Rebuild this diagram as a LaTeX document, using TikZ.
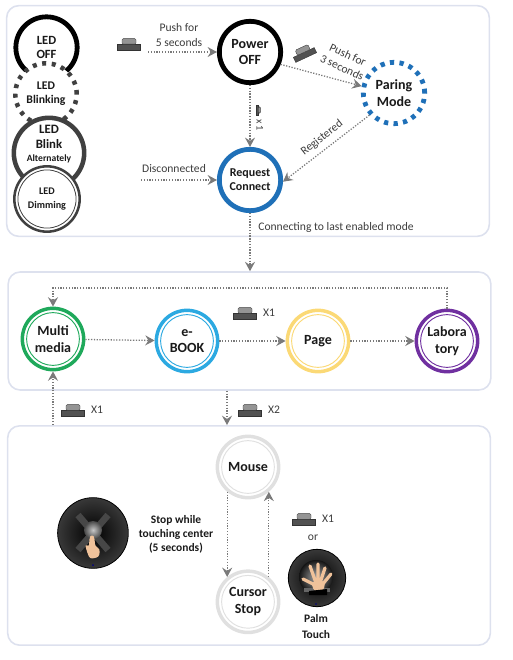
\documentclass[tikz,border=0pt]{standalone}
\usepackage{fontspec}
\setmainfont{Carlito}
\usetikzlibrary{arrows.meta,positioning}
\definecolor{ink}{HTML}{1A1A1A}
\definecolor{frame}{HTML}{DDE1EE}
\definecolor{flow}{HTML}{7A7A7A}
\definecolor{ledblue}{HTML}{1F70B8}
\definecolor{ledgreen}{HTML}{1FA95B}
\definecolor{ledcyan}{HTML}{2CA9E1}
\definecolor{ledyellow}{HTML}{FBD976}
\definecolor{ledpurple}{HTML}{7030A0}
\definecolor{ledgrey}{HTML}{E0E0E0}
\definecolor{skin}{HTML}{F0C29A}
\tikzset{
  panel/.style={draw=frame,line width=1.2pt,rounded corners=9pt,minimum width=362pt,inner sep=0pt},
  led/.style={circle,inner sep=0pt,minimum size=46pt,fill=white,align=center,font=\fontsize{10.5}{12.5}\selectfont\bfseries,text=ink},
  ringled/.style={led,draw=#1,line width=2.6pt,path picture={\draw[#1,line width=.7pt] (path picture bounding box.center) circle (19.8pt);}},
  lbl/.style={font=\fontsize{8.7}{10.6}\selectfont,text=ink!85,align=center,inner sep=0pt},
  note/.style={font=\fontsize{8.6}{10.6}\selectfont\bfseries,text=ink,align=center,inner sep=0pt},
  flowarr/.style={dash pattern=on .95pt off 1.15pt,line width=.95pt,color=flow,-{Stealth[length=7pt,width=7.5pt,inset=2.4pt]}},
  touchpad/.style={circle,inner sep=0pt,minimum size=#1,draw=black,line width=.6pt,inner color=black,outer color=black!78},
  btn/.pic={
    \fill[black!68,draw=black!80,line width=.3pt] (-11.5,-2.8) rectangle (11.5,2.8);
    \fill[black!42,draw=black!75,line width=.3pt,rounded corners=1pt] (-7,-2.8) -- (-7,-8.4) -- (7,-8.4) -- (7,-2.8) -- cycle;
  }
}
\begin{document}
\begin{tikzpicture}[x=.75pt,y=-.75pt]
\useasboundingbox (0,0) rectangle (513,660);
% panels
\node[panel,minimum height=173pt] (linkpanel) at (248,121) {};
\node[panel,minimum height=88.5pt] (modepanel) at (249.5,331) {};
\node[panel,minimum height=164.5pt] (mousepanel) at (249,535.5) {};
% legend
\node[led,draw=black,line width=3.6pt,font=\fontsize{9.4}{10.6}\selectfont\bfseries] (ledoff) at (46.5,47.5) {LED\\OFF};
\node[led,draw=black!75,line width=3.4pt,dash pattern=on 3pt off 4.2pt,font=\fontsize{8.8}{10.6}\selectfont\bfseries] (ledblink) at (46,94) {LED\\Blinking};
\node[led,draw=black!75,line width=3.4pt,minimum size=50pt,font=\fontsize{9.6}{10.6}\selectfont\bfseries] (ledalt) at (49,153) {LED\\Blink\\[-.5pt]{\fontsize{7.2}{9}\selectfont Alternately}\\[3.5pt]\mbox{}};
\node[led,draw=black!75,line width=1.9pt,minimum size=49pt,font=\fontsize{7.6}{10.5}\selectfont\bfseries,path picture={\draw[black!75,line width=.6pt] (path picture bounding box.center) circle (21.8pt);}] (leddim) at (47,199) {LED\\Dimming};
% link states
\node[led,draw=black,line width=3.6pt] (poweroff) at (250,52) {Power\\OFF};
\node[led,draw=ledblue,line width=3.6pt,font=\fontsize{9}{10.6}\selectfont\bfseries] (reqconn) at (250,180) {Request\\Connect};
\node[led,draw=ledblue,line width=3.6pt,dash pattern=on 3.2pt off 4pt] (paring) at (394,93) {Paring\\Mode};
% modes
\node[ringled=ledgreen] (multimedia) at (53,339) {Multi\\media};
\node[ringled=ledcyan] (ebook) at (187,341) {e-\\BOOK};
\node[ringled=ledyellow] (pagemode) at (318,341) {Page};
\node[ringled=ledpurple] (labmode) at (447,341) {Labora\\tory};
\node[ringled=ledgrey] (mouse) at (248,467) {Mouse};
\node[ringled=ledgrey,below=52.5pt of mouse] (cursor) {Cursor\\Stop};
% free ends
\coordinate (pushstart) at (148,52);
\coordinate (discstart) at (141,180);
\coordinate (looptop) at (250,288);
\coordinate (modedown) at (227,392);
% flows
\draw[flowarr] (pushstart) -- (poweroff);
\draw[flowarr] (poweroff.-22) -- (paring.168);
\draw[flowarr] (poweroff) -- (reqconn);
\draw[flowarr] (paring.222) -- (reqconn.-3);
\draw[flowarr] (discstart) -- (reqconn);
\draw[flowarr] (reqconn) -- (reqconn|-modepanel.north);
\draw[flowarr] (labmode.north) |- (looptop) -| (multimedia.north);
\draw[flowarr] (multimedia) -- (ebook);
\draw[flowarr] (ebook) -- (pagemode);
\draw[flowarr] (pagemode) -- (labmode);
\draw[flowarr] (multimedia|-mousepanel.north) -- (multimedia.south);
\draw[flowarr] (modedown|-modepanel.south) -- (modedown|-mousepanel.north);
\draw[flowarr] (mouse.-130) -- (cursor.130);
\draw[flowarr] (cursor.50) -- (mouse.-50);
% labels
\node[lbl] (pushfive) at (179,35) {Push for\\5 seconds};
\node[lbl,rotate=-25] (pushthree) at (345,61) {Push for\\3 seconds};
\node[lbl,rotate=38] (registered) at (322,138) {Registered};
\node[lbl] (disconn) at (174,169) {Disconnected};
\node[lbl,rotate=-90] (xone) at (260,125) {\fontsize{7.6}{9}\selectfont x 1};
\node[lbl] (lastmode) at (336,227) {Connecting to last enabled mode};
\node[lbl] (xmode) at (269,313) {X1};
\node[lbl] (xmulti) at (97,410) {X1};
\node[lbl] (xmouse) at (274,410) {X2};
\node[lbl] (xpalm) at (328,519) {X1};
\node[lbl] (ortext) at (313,538) {or};
% buttons
\pic at (129,47) {btn};
\pic[rotate=25] at (305,55) {btn};
\pic[rotate=-90,scale=.45] at (257,110) {btn};
\pic at (245,316) {btn};
\pic at (73,413) {btn};
\pic at (250,413) {btn};
\pic at (304,522) {btn};
% stop touch
\node[touchpad=53pt] (stoppad) at (93,533) {};
\draw[black!72,line width=5pt] (78,515) -- (108,550) (108,515) -- (78,550);
\shade[inner color=black!22,outer color=black!72] (93,530) circle (9);
\fill[skin,rounded corners=2pt] (89.5,537) -- (92,535) -- (94.5,537) -- (95,546) -- (100,549) -- (99,557) -- (90,559) -- (87,552) -- (85,544) -- (89,547) -- cycle;
\fill[blue!50!black] (93,565) circle (1);
\node[note] (stopnote) at (176,534.5) {Stop while\\touching center\\(5 seconds)};
% palm touch
\node[touchpad=43pt] (palmpad) at (317,578) {};
\shade[inner color=black!35,outer color=black!92] (316,577) circle (17);
\draw[black!60,line width=3pt] (304,590) -- (330,590);
\draw[skin,line width=2.4pt,line cap=round] (315,585) -- (303,579) (316,583) -- (310,566) (318,583) -- (318,564) (320,583) -- (325,568) (322,585) -- (331,574);
\fill[skin,rounded corners=2pt] (311,582) -- (325,581) -- (324,590) -- (314,591) -- cycle;
\fill[black] (309,591) -- (327,589) -- (327,595) -- (309,595) -- cycle;
\fill[blue!50!black] (316,604) circle (.9);
\node[note] (palmnote) at (316,626.5) {Palm\\[1.5pt]Touch};
\end{tikzpicture}
\end{document}
